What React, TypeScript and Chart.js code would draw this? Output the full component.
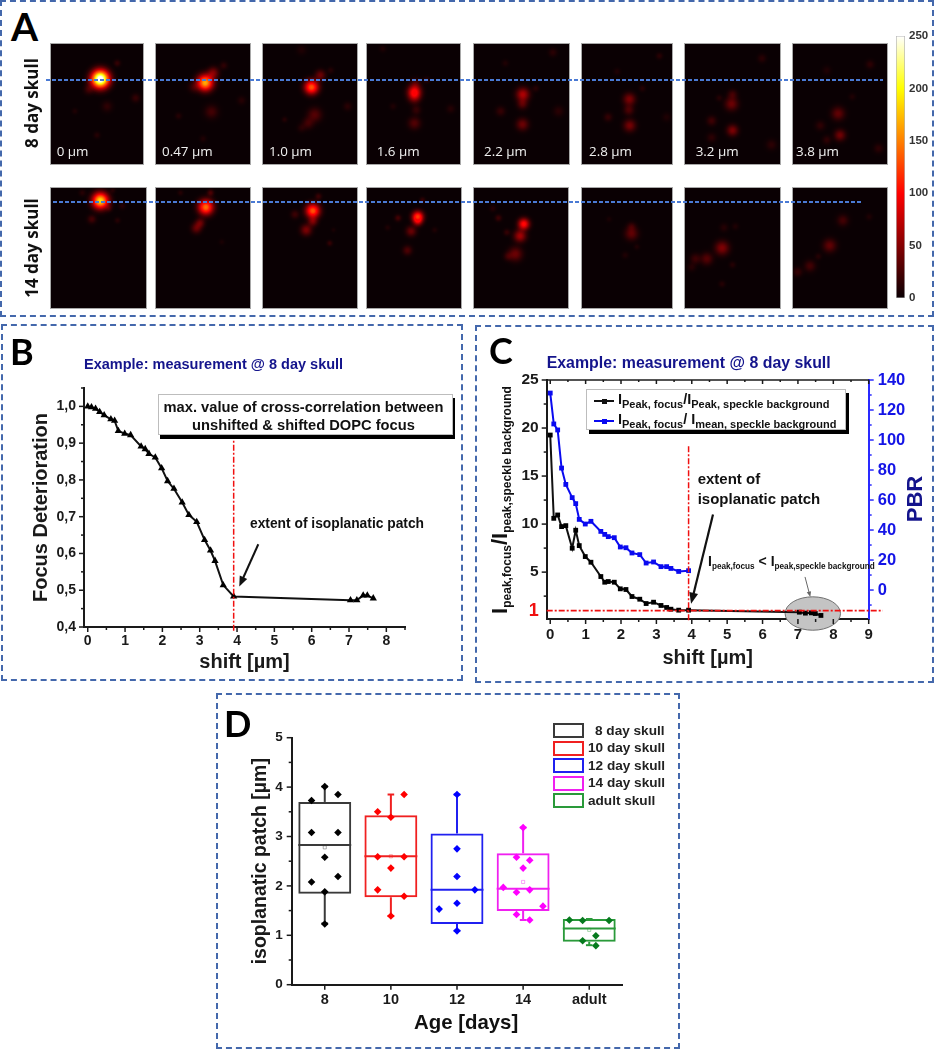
import React, { useEffect, useRef } from "react";
import { Chart, registerables } from "chart.js";

Chart.register(...registerables);

const FONT = "'Liberation Sans', Arial, sans-serif";
Chart.defaults.font.family = FONT;
Chart.defaults.font.weight = "bold";

/* ---------- data ---------- */
const shiftUm = [0, 0.1, 0.21, 0.32, 0.44, 0.62, 0.72, 0.82, 0.99, 1.15, 1.43, 1.54, 1.64, 1.81, 1.98, 2.14, 2.31, 2.53, 2.71, 2.92, 3.13, 3.29, 3.41, 3.63, 3.91, 7.04, 7.21, 7.38, 7.49, 7.65];
const focusDeterioration = [1.0, 0.998, 0.994, 0.985, 0.976, 0.965, 0.961, 0.933, 0.926, 0.922, 0.891, 0.884, 0.871, 0.861, 0.832, 0.797, 0.776, 0.739, 0.705, 0.686, 0.637, 0.608, 0.58, 0.514, 0.483, 0.473, 0.473, 0.486, 0.486, 0.478];
const peakToPeak = [19.27, 10.6, 10.95, 9.74, 9.84, 7.49, 9.36, 7.76, 6.62, 6.03, 4.54, 3.95, 4.02, 3.95, 3.26, 3.19, 2.46, 2.18, 1.73, 1.87, 1.53, 1.32, 1.14, 1.04, 1.04, 0.83, 0.73, 0.76, 0.69, 0.49];
const pbr = [131.3, 110.7, 106.7, 81.3, 70.4, 61.6, 57.6, 47.1, 44, 45.8, 39.1, 37.1, 35.6, 34.9, 28.7, 28.2, 24.7, 23.6, 18, 18.7, 15.6, 15.6, 14.4, 12.4, 12.9];
const isoplanaticExtent = 3.91;

const ageLabels = ["8", "10", "12", "14", "adult"];
const boxQ1 = [1.84, 1.77, 1.23, 1.49, 0.87];
const boxQ3 = [3.7, 3.43, 3.06, 2.66, 1.33];
const boxMedian = [2.83, 2.6, 1.92, 1.94, 1.14];
const boxMean = [2.78, 2.6, 2.19, 2.08, 1.11];
const whiskerLow = [1.24, 1.39, 1.09, 1.31, 0.8];
const whiskerHigh = [4.01, 3.85, 3.85, 3.18, 1.33];
const skull8Points = [[0.8, 3.73], [1, 4.01], [1.2, 3.85], [0.8, 3.08], [1.2, 3.08], [1, 2.58], [1.2, 2.19], [0.8, 2.08], [1, 1.88], [1, 1.23]];
const skull10Points = [[1.8, 3.5], [2, 3.39], [2.2, 3.85], [1.8, 2.59], [2.2, 2.59], [2, 2.36], [1.8, 1.92], [2.2, 1.79], [2, 1.39]];
const skull12Points = [[3, 3.85], [3, 2.75], [3, 2.19], [3.27, 1.92], [2.73, 1.53], [3, 1.65], [3, 1.09]];
const skull14Points = [[4, 3.18], [3.9, 2.58], [4.1, 2.52], [4, 2.36], [3.7, 1.97], [3.9, 1.87], [4.1, 1.92], [4.3, 1.59], [3.9, 1.42], [4.1, 1.31]];
const adultPoints = [[4.7, 1.31], [4.9, 1.3], [5.3, 1.3], [4.9, 0.89], [5.1, 0.99], [5.1, 0.79]];
const boxColors = ["#3a3a3a", "#f02020", "#2020f0", "#f020f0", "#2a9a3a"];
const pointColors = ["#000000", "#ff0000", "#0000ff", "#ff00ff", "#067a1e"];
const legendNames = ["8 day skull", "10 day skull", "12 day skull", "14 day skull", "adult skull"];

const shiftCaptions = ["0 µm", "0.47 µm", "1.0 µm", "1.6 µm", "2.2 µm", "2.8 µm", "3.2 µm", "3.8 µm"];
// each spot: [x %, y %, radius, intensity]
const skull8Spots = [
  [[53.6, 29.2, 19, 275], [72, 16, 7, 16], [92, 45, 9, 16], [61, 52, 11, 14], [41, 38, 10, 20], [50, 76, 7, 10], [26, 56, 6, 8]],
  [[52.3, 32.3, 17, 170], [61, 24, 12, 44], [72, 18, 8, 14], [59, 56.5, 14, 22], [40, 36, 11, 18], [24, 60, 7, 10], [91, 47, 9, 10], [50, 79, 7, 8]],
  [[51.6, 36, 15, 135], [61, 26, 11, 38], [55, 59, 15, 29], [48, 66, 12, 21], [41, 70, 9, 10], [41, 5, 10, 8], [90, 52, 9, 12], [23, 63, 6, 10], [72, 22, 7, 10]],
  [[51, 40, 14, 100], [51, 45, 13, 32], [52, 33, 11, 22], [51, 66, 13, 28], [53, 55, 10, 16], [28, 52, 7, 8], [90, 54, 9, 10], [64, 30, 7, 12], [17, 4, 7, 8]],
  [[51.4, 42, 14, 64], [51, 50, 11, 30], [51, 67, 13, 38], [28, 56, 10, 16], [89, 56, 11, 12], [83, 7, 9, 12], [33, 16, 7, 8], [65, 37, 7, 11]],
  [[52.6, 46, 13, 44], [52, 55, 11, 26], [53, 68, 13, 42], [29, 61, 9, 16], [86, 10, 7, 12], [94, 61, 9, 8], [39, 23, 7, 8], [67, 37, 7, 10]],
  [[49, 50, 14, 38], [50, 42, 10, 21], [50, 72, 12, 44], [28, 64, 10, 20], [28, 78, 10, 13], [81, 12, 9, 12], [91, 84, 11, 13], [36, 45, 7, 10]],
  [[48, 58, 14, 34], [50, 76, 12, 40], [29, 68, 10, 14], [36, 80, 9, 14], [82, 17, 9, 13], [91, 87, 10, 13], [36, 22, 9, 8], [63, 44, 7, 8]],
];
const skull14Spots = [
  [[52, 10.6, 17, 190], [43, 26, 9, 22], [70, 27, 6, 11], [75, 15, 7, 11], [33, 4, 7, 11], [65, 2, 6, 10], [61, 17, 7, 16]],
  [[53, 16, 16, 145], [47, 29, 10, 36], [43, 33.5, 11, 36], [58, 4, 7, 26], [70, 45, 6, 6], [26, 4, 6, 10]],
  [[53, 19, 15, 135], [53, 28, 10, 40], [46, 35, 12, 44], [34, 22, 9, 19], [59, 7, 7, 19], [71, 46, 6, 16], [75, 35, 5, 6]],
  [[54, 24, 12, 125], [54, 28, 10, 48], [47, 36, 11, 37], [33, 25, 7, 22], [43, 52, 10, 26], [59, 10, 6, 16], [22, 33, 6, 8], [72, 35, 6, 8]],
  [[53, 30, 12, 105], [49, 40, 13, 60], [44, 55, 15, 38], [26, 25, 7, 19], [35, 37, 7, 16], [36, 57, 9, 16], [20, 17, 7, 10]],
  [[55, 38, 14, 34], [55, 32, 9, 16], [48, 56, 7, 8], [61, 49, 6, 8], [30, 26, 6, 6]],
  [[39, 50, 15, 46], [23, 59, 13, 29], [11, 59, 11, 19], [7, 66, 9, 10], [50, 64, 7, 10], [39, 80, 7, 10], [41, 33, 9, 10], [53, 32, 7, 8]],
  [[39, 48, 14, 34], [53, 27, 12, 22], [18, 65, 12, 22], [5, 70, 10, 16], [27, 57, 7, 10], [81, 24, 7, 8]],
];
const colorbarTicks = [0, 50, 100, 150, 200, 250];

/* ---------- helpers ---------- */
const INK = "#1a1a1a";

function colormap(stops: number[][], v: number) {
  const t = Math.max(0, Math.min(250, v));
  for (let i = 1; i < stops.length; i++) {
    if (t <= stops[i][0]) {
      const a = stops[i - 1], b = stops[i], f = (t - a[0]) / (b[0] - a[0]);
      return `rgb(${a[1] + (b[1] - a[1]) * f},${a[2] + (b[2] - a[2]) * f},${a[3] + (b[3] - a[3]) * f})`;
    }
  }
  return "#fff";
}
const hot = (v: number) => colormap([[0, 10, 0, 3], [100, 255, 0, 0], [150, 255, 128, 0], [200, 255, 255, 0], [250, 255, 255, 255]], v);
const additiveBlobs = (v: number) => colormap([[0, 0, 0, 0], [100, 255, 0, 0], [150, 255, 128, 0], [200, 255, 255, 0], [250, 255, 255, 255]], v);

function heatmapConfig(spots: number[][]) {
  const fill = (ctx: any) => {
    if (!ctx.raw) return "#000";
    const { x, y, r, v } = ctx.raw;
    const c = ctx.chart;
    const px = c.scales.x.getPixelForValue(x), py = c.scales.y.getPixelForValue(y);
    if (!Number.isFinite(px) || !Number.isFinite(py)) return "#000";
    const g = c.ctx.createRadialGradient(px, py, 0, px, py, r);
    for (let i = 0; i <= 8; i++) {
      const t = i / 8;
      g.addColorStop(t, additiveBlobs(v * Math.exp(-4 * t * t) * (1 - t * t)));
    }
    return g;
  };
  return {
    type: "bubble",
    data: { datasets: [{ data: spots.map(([x, y, r, v]) => ({ x, y, r, v })), backgroundColor: fill, borderWidth: 0, hoverBorderWidth: 0 }] },
    options: {
      responsive: false, animation: false, events: [],
      layout: { padding: 0, autoPadding: false },
      plugins: { legend: { display: false }, tooltip: { enabled: false } },
      scales: {
        x: { type: "linear", min: 0, max: 100, display: false },
        y: { type: "linear", min: 0, max: 100, reverse: true, display: false },
      },
    },
    plugins: [{
      id: "additive",
      beforeDraw(c: any) { c.ctx.fillStyle = hot(0); c.ctx.fillRect(0, 0, c.width, c.height); },
      beforeDatasetsDraw(c: any) { c.ctx.globalCompositeOperation = "lighter"; },
      afterDatasetsDraw(c: any) { c.ctx.globalCompositeOperation = "source-over"; },
    }],
  };
}

function colorbarConfig() {
  return {
    type: "bar",
    data: {
      labels: ["intensity"],
      datasets: [{
        data: [[0, 250]], barPercentage: 1, categoryPercentage: 1, borderWidth: 1, borderColor: "#b5b5b5", borderSkipped: false,
        backgroundColor: (ctx: any) => {
          const s = ctx.chart.scales.y;
          const y0 = s.getPixelForValue(0), y1 = s.getPixelForValue(250);
          if (!Number.isFinite(y0) || !Number.isFinite(y1)) return "#000";
          const g = ctx.chart.ctx.createLinearGradient(0, y0, 0, y1);
          for (let i = 0; i <= 25; i++) g.addColorStop(i / 25, hot(i * 10));
          return g;
        },
      }],
    },
    options: {
      responsive: false, animation: false, events: [],
      layout: { padding: { left: 6, top: 8, right: 0, bottom: 0 }, autoPadding: false },
      plugins: { legend: { display: false }, tooltip: { enabled: false } },
      scales: {
        x: { display: false, grid: { display: false } },
        y: {
          type: "linear", min: 0, max: 250, position: "right",
          border: { display: false }, grid: { display: false, drawTicks: false },
          afterBuildTicks: (s: any) => { s.ticks = colorbarTicks.map((value) => ({ value })); },
          afterFit: (s: any) => { s.width = 27; },
          ticks: { padding: 4, color: "#333", font: { size: 11.5, weight: "bold" }, autoSkip: false },
        },
      },
    },
  };
}

function axis(o: any) {
  return {
    type: "linear", min: o.min, max: o.max, position: o.position, offset: false,
    border: { display: true, width: 2, color: o.color || INK },
    grid: { display: false, drawTicks: false, offset: false },
    afterBuildTicks: (s: any) => { s.ticks = o.ticks.map((value: number) => ({ value })); },
    afterFit: (s: any) => { if (s.isHorizontal()) s.height = o.size; else s.width = o.size; },
    ticks: {
      autoSkip: false, maxRotation: 0, padding: o.padding, color: o.tickColor || INK,
      font: o.font, callback: o.callback,
    },
    title: o.title ? { display: true, text: o.title, color: o.titleColor || INK, font: { size: o.titleSize, weight: "bold" }, padding: o.titlePadding } : { display: false },
  };
}

function range(from: number, to: number, step: number) {
  const out: number[] = [];
  const n = Math.round((to - from) / step);
  for (let i = 0; i <= n; i++) out.push(from + i * step);
  return out;
}

function tickMarks(specs: any[], extra?: (c: any) => void, under?: (c: any) => void) {
  return {
    id: "tickMarks",
    beforeDatasetsDraw(c: any) { if (under) under(c); },
    afterDraw(c: any) {
      const ctx = c.ctx;
      ctx.save();
      for (const s of specs) {
        const sc = c.scales[s.id];
        ctx.strokeStyle = s.color || INK;
        ctx.lineWidth = s.width || 1.5;
        const mark = (v: number, len: number) => {
          const p = sc.getPixelForValue(v);
          ctx.beginPath();
          if (sc.position === "left") { ctx.moveTo(sc.right, p); ctx.lineTo(sc.right - len, p); }
          else if (sc.position === "right") { ctx.moveTo(sc.left, p); ctx.lineTo(sc.left + len, p); }
          else { ctx.moveTo(p, sc.top); ctx.lineTo(p, sc.top + len); }
          ctx.stroke();
        };
        (s.major || []).forEach((v: number) => mark(v, 5));
        (s.minor || []).forEach((v: number) => mark(v, 3));
      }
      if (extra) extra(c);
      ctx.restore();
    },
  };
}

function arrow(ctx: any, x1: number, y1: number, x2: number, y2: number, color: string, width: number, head: number) {
  const a = Math.atan2(y2 - y1, x2 - x1);
  ctx.save();
  ctx.strokeStyle = color; ctx.fillStyle = color; ctx.lineWidth = width;
  ctx.beginPath(); ctx.moveTo(x1, y1); ctx.lineTo(x2 - Math.cos(a) * head * 0.7, y2 - Math.sin(a) * head * 0.7); ctx.stroke();
  ctx.beginPath(); ctx.moveTo(x2, y2);
  ctx.lineTo(x2 - head * Math.cos(a - 0.38), y2 - head * Math.sin(a - 0.38));
  ctx.lineTo(x2 - head * Math.cos(a + 0.38), y2 - head * Math.sin(a + 0.38));
  ctx.closePath(); ctx.fill();
  ctx.restore();
}

const baseOptions = { responsive: false, animation: false, events: [], plugins: { legend: { display: false }, tooltip: { enabled: false } } };

function redLine(data: any[], width = 1.5) {
  return { data, showLine: true, pointRadius: 0, borderColor: "#f01010", borderWidth: width, borderDash: [6, 2, 2, 2], clip: false, order: 0 };
}

function panelBConfig() {
  return {
    type: "scatter",
    data: {
      datasets: [
        redLine([{ x: isoplanaticExtent, y: 0.39 }, { x: isoplanaticExtent, y: 0.913 }]),
        {
          data: shiftUm.map((x, i) => ({ x, y: focusDeterioration[i] })), showLine: true, tension: 0,
          borderColor: "#111", borderWidth: 2, pointStyle: "triangle", pointRadius: 4.2, backgroundColor: "#000", pointBorderWidth: 0, clip: false, order: 1,
        },
      ],
    },
    options: {
      ...baseOptions,
      layout: { padding: { left: 0, top: 63, right: 57, bottom: 0 }, autoPadding: false },
      scales: {
        x: axis({ min: -0.1, max: 8.5, position: "bottom", ticks: range(0, 8, 1), size: 53, padding: 6, font: { size: 14, weight: "bold" }, title: "shift [µm]", titleSize: 20, titlePadding: { top: 0, bottom: 6 } }),
        y: axis({ min: 0.4, max: 1.05, position: "left", ticks: range(0.4, 1, 0.1), size: 82, padding: 8, font: { size: 14, weight: "bold" }, callback: (v: number) => v.toFixed(1).replace(".", ","), title: "Focus Deterioration", titleSize: 20, titlePadding: { top: 27.5, bottom: 0 } }),
      },
    },
    plugins: [tickMarks(
      [{ id: "x", major: range(0, 8, 1), minor: range(0.5, 8.5, 1) }, { id: "y", major: range(0.4, 1, 0.1), minor: range(0.45, 1.05, 0.1) }],
      (c) => {
        const x = c.scales.x, y = c.scales.y;
        arrow(c.ctx, x.getPixelForValue(4.57), y.getPixelForValue(0.625), x.getPixelForValue(4.06), y.getPixelForValue(0.51), "#111", 2, 11);
      },
    )],
  };
}

function panelCConfig() {
  return {
    type: "scatter",
    data: {
      datasets: [
        redLine([{ x: isoplanaticExtent, y: 0 }, { x: isoplanaticExtent, y: 18.3 }]),
        redLine([{ x: -0.1, y: 1 }, { x: 9.4, y: 1 }], 1.8),
        {
          data: shiftUm.map((x, i) => ({ x, y: peakToPeak[i] })), showLine: true, tension: 0, yAxisID: "y",
          borderColor: "#111", borderWidth: 2, pointStyle: "rect", pointRadius: 3.4, backgroundColor: "#000", pointBorderWidth: 0, clip: false, order: 1,
        },
        {
          data: pbr.map((y, i) => ({ x: shiftUm[i], y })), showLine: true, tension: 0, yAxisID: "y1",
          borderColor: "#0a0af0", borderWidth: 2, pointStyle: "rect", pointRadius: 3.4, backgroundColor: "#0a0af0", pointBorderWidth: 0, clip: false, order: 2,
        },
      ],
    },
    options: {
      ...baseOptions,
      layout: { padding: { left: 0, top: 55, right: 0, bottom: 0 }, autoPadding: false },
      scales: {
        x: axis({ min: -0.1, max: 9, position: "bottom", ticks: range(0, 9, 1), size: 63, padding: 7, font: { size: 15, weight: "bold" }, title: "shift [µm]", titleSize: 20, titlePadding: { top: 0, bottom: 12 } }),
        y: axis({
          min: 0.12, max: 25, position: "left", ticks: [1, 5, 10, 15, 20, 25], size: 71.7, padding: 8,
          font: (ctx: any) => ({ size: ctx.tick && ctx.tick.value === 1 ? 18 : 15.5, weight: "bold" }),
          tickColor: (ctx: any) => (ctx.tick && ctx.tick.value === 1 ? "#f01010" : INK),
        }),
        y1: axis({ min: -19.3, max: 140, position: "right", ticks: range(0, 140, 20), size: 64.3, padding: 9, color: "#2a2aff", tickColor: "#1414e6", font: { size: 16.5, weight: "bold" } }),
      },
    },
    plugins: [tickMarks(
      [
        { id: "x", major: range(0, 9, 1), minor: range(0.5, 8.5, 1) },
        { id: "y", major: [5, 10, 15, 20, 25], minor: [2.5, 7.5, 12.5, 17.5, 22.5] },
        { id: "y1", major: range(0, 140, 20), minor: range(-10, 130, 20), color: "#2a2aff" },
      ],
      (c) => {
        const x = c.scales.x, y = c.scales.y, ctx = c.ctx, a = c.chartArea;
        ctx.lineWidth = 1.5; ctx.strokeStyle = INK;
        ctx.beginPath(); ctx.moveTo(a.left, a.top); ctx.lineTo(a.right, a.top); ctx.stroke();
        range(0, 9, 0.5).forEach((v) => {
          const p = x.getPixelForValue(v);
          ctx.beginPath(); ctx.moveTo(p, a.top); ctx.lineTo(p, a.top + (Number.isInteger(v) ? 4 : 2)); ctx.stroke();
        });
        arrow(ctx, x.getPixelForValue(4.6), y.getPixelForValue(11), x.getPixelForValue(3.98), y.getPixelForValue(1.7), "#111", 2.2, 12);
        arrow(ctx, x.getPixelForValue(7.2), y.getPixelForValue(4.5), x.getPixelForValue(7.35), y.getPixelForValue(2.4), "#666", 1, 6);
      },
      (c) => {
        const x = c.scales.x, y = c.scales.y, ctx = c.ctx;
        ctx.save();
        ctx.beginPath();
        ctx.ellipse(x.getPixelForValue(7.42), y.getPixelForValue(0.69), 27.7, 16.7, 0, 0, Math.PI * 2);
        ctx.fillStyle = "#c4c4c4"; ctx.fill();
        ctx.strokeStyle = "#707070"; ctx.lineWidth = 1; ctx.stroke();
        ctx.restore();
      },
    )],
  };
}

function panelDConfig() {
  const idx = ageLabels.map((_, i) => i + 1);
  const seg = (pts: any[], color: string) => ({ type: "scatter", data: pts, showLine: true, pointRadius: 0, borderColor: color, borderWidth: 2, clip: false, order: 2 });
  const lines: any[] = [];
  idx.forEach((x, i) => {
    const col = boxColors[i];
    lines.push(seg([{ x: x - 0.4, y: boxMedian[i] }, { x: x + 0.4, y: boxMedian[i] }], col));
    lines.push(seg([{ x, y: boxQ3[i] }, { x, y: whiskerHigh[i] }], col));
    lines.push(seg([{ x, y: boxQ1[i] }, { x, y: whiskerLow[i] }], col));
    lines.push(seg([{ x: x - 0.05, y: whiskerHigh[i] }, { x: x + 0.05, y: whiskerHigh[i] }], col));
    lines.push(seg([{ x: x - 0.05, y: whiskerLow[i] }, { x: x + 0.05, y: whiskerLow[i] }], col));
  });
  const pts = [skull8Points, skull10Points, skull12Points, skull14Points, adultPoints].map((p, i) => ({
    type: "scatter", data: p.map(([x, y]) => ({ x, y })), pointStyle: "rectRot", pointRadius: 3.8, backgroundColor: pointColors[i], pointBorderWidth: 0, showLine: false, clip: false, order: 1,
  }));
  const means = {
    type: "scatter", data: boxMean.map((y, i) => ({ x: i + 1, y })), pointStyle: "rect", pointRadius: 2.2,
    backgroundColor: "transparent", borderColor: boxColors.map((c) => c + "66"), pointBorderColor: boxColors.map((c) => c + "66"), pointBorderWidth: 1, showLine: false, order: 1,
  };
  return {
    type: "bar",
    data: {
      datasets: [
        {
          type: "bar", data: idx.map((x, i) => ({ x, y: [boxQ1[i], boxQ3[i]] })), backgroundColor: "transparent", borderColor: boxColors,
          borderWidth: 2, borderSkipped: false, barPercentage: 1, categoryPercentage: 0.8, order: 3,
        },
        ...lines, means, ...pts,
      ],
    },
    options: {
      ...baseOptions,
      layout: { padding: { left: 0, top: 42.7, right: 55.7, bottom: 0 }, autoPadding: false },
      scales: {
        x: axis({ min: 0.5, max: 5.5, position: "bottom", ticks: idx, size: 63.3, padding: 7, font: { size: 14.5, weight: "bold" }, callback: (v: number) => ageLabels[v - 1] }),
        y: axis({ min: 0, max: 5, position: "left", ticks: range(0, 5, 1), size: 73.7, padding: 9, font: { size: 13.5, weight: "bold" }, title: "isoplanatic patch [µm]", titleSize: 19.5, titlePadding: { top: 31, bottom: 0 } }),
      },
    },
    plugins: [tickMarks([
      { id: "x", major: idx },
      { id: "y", major: range(0, 5, 1), minor: range(0.5, 4.5, 1) },
    ])],
  };
}

/* ---------- components ---------- */
function ChartBox({ x, y, w, h, make, style }: any) {
  const ref = useRef<HTMLCanvasElement | null>(null);
  useEffect(() => {
    const chart = new Chart(ref.current as any, make());
    return () => chart.destroy();
  }, []);
  return <canvas ref={ref} width={w} height={h} style={{ position: "absolute", left: x, top: y, width: w, height: h, ...style }} />;
}

function T({ x, y, size, children, color = "#111", weight = "bold", rotate, family, style }: any) {
  return (
    <div style={{
      position: "absolute", left: x, top: y, fontSize: size, color, fontWeight: weight, fontFamily: family || FONT, lineHeight: 1, whiteSpace: "nowrap",
      transform: rotate ? "translate(-50%,-50%) rotate(-90deg)" : "translateY(-50%)", ...style,
    }}>{children}</div>
  );
}

const Sub = ({ s, children }: any) => <span style={{ fontSize: s, verticalAlign: -Math.round(s * 0.35) }}>{children}</span>;

function Frame({ x, y, w, h }: any) {
  return <div style={{ position: "absolute", left: x, top: y, width: w, height: h, boxSizing: "border-box", border: "2px dashed #4468ac" }} />;
}

function DashLine({ x, y, w }: any) {
  return <div style={{ position: "absolute", left: x, top: y - 1, width: w, height: 2, background: "repeating-linear-gradient(90deg,#4a7ad4 0 4px,transparent 4px 6px)" }} />;
}

const row1X = [[50.7, 142.7], [155.7, 250], [263, 357.3], [367.3, 460.7], [473.7, 568.3], [581.7, 671.7], [684.7, 779.3], [792.7, 887]];
const row2X = [[50.7, 145.3], [155.7, 250], [263, 357.3], [367.3, 461.7], [474, 568.3], [581.7, 671.7], [684.7, 779.3], [793.3, 887.7]];
const captionX = [56.7, 162, 269, 376.7, 484, 589, 695.7, 796];

const CAPTION = "'Open Sans', sans-serif";
const LETTER = "Lato, sans-serif";
const NAVY = "#14148c";
const imageStyle = { outline: "1px solid #a8a8a8" };

function LegendRow({ y, color, children }: any) {
  return (
    <>
      <div style={{ position: "absolute", left: 594, top: y - 1, width: 20, height: 2, background: color }} />
      <div style={{ position: "absolute", left: 601.5, top: y - 2.5, width: 5, height: 5, background: color }} />
      <T x={618} y={y} size={14.5}>{children}</T>
    </>
  );
}

export default function App() {
  return (
    <div style={{ position: "absolute", left: 0, top: 0, width: 935, height: 1050, background: "#fff", overflow: "hidden", fontFamily: FONT }}>
      {/* Panel A */}
      {row1X.map(([a, b], i) => (
        <ChartBox key={"r1" + i} x={Math.round(a)} y={44} w={Math.round(b - a)} h={120} make={() => heatmapConfig(skull8Spots[i])} style={imageStyle} />
      ))}
      {row2X.map(([a, b], i) => (
        <ChartBox key={"r2" + i} x={Math.round(a)} y={188} w={Math.round(b - a)} h={120} make={() => heatmapConfig(skull14Spots[i])} style={imageStyle} />
      ))}
      {shiftCaptions.map((c, i) => (
        <T key={c} x={captionX[i]} y={152} size={13.4} color="#f0f0f0" weight={400} family={CAPTION}>{c}</T>
      ))}
      <DashLine x={46} y={79.5} w={837} />
      <DashLine x={53} y={201.5} w={808} />
      <ChartBox x={890} y={25} w={42} h={284} make={colorbarConfig} />
      <T x={11} y={26} size={39} color="#000" family={LETTER}>A</T>
      <T x={31} y={103} size={17} rotate family={CAPTION} color="#111">8 day skull</T>
      <T x={31} y={248} size={17} rotate family={CAPTION} color="#111">14 day skull</T>
      <Frame x={0} y={0} w={934} h={317} />

      {/* Panel B */}
      <ChartBox x={2} y={325} w={460} h={355} make={panelBConfig} />
      <T x={84} y={364} size={14.5} color={NAVY}>Example: measurement @ 8 day skull</T>
      <div style={{
        position: "absolute", left: 158, top: 394, width: 295, height: 41, boxSizing: "border-box", background: "#fff", border: "1px solid #bdbdbd",
        boxShadow: "2px 4px 0 #000", textAlign: "center", fontSize: 14.7, fontWeight: "bold", color: "#111", lineHeight: "18px", paddingTop: 2.5, paddingRight: 4, whiteSpace: "nowrap",
      }}>
        max. value of cross-correlation between<br />unshifted &amp; shifted DOPC focus
      </div>
      <T x={250} y={524} size={13.8}>extent of isoplanatic patch</T>
      <T x={10} y={351} size={36} color="#000" family={LETTER}>B</T>
      <Frame x={1} y={324} w={462} h={357} />

      {/* Panel C */}
      <ChartBox x={475} y={325} w={458} h={357} make={panelCConfig} />
      <T x={546.7} y={363} size={15.9} color={NAVY}>Example: measurement @ 8 day skull</T>
      <div style={{ position: "absolute", left: 586, top: 389, width: 260, height: 41, boxSizing: "border-box", background: "#fff", border: "1px solid #bdbdbd", boxShadow: "3px 4px 0 #000" }} />
      <LegendRow y={401} color="#111">I<Sub s={11}>Peak, focus</Sub>/I<Sub s={11}>Peak, speckle background</Sub></LegendRow>
      <LegendRow y={421} color="#0a0af0">I<Sub s={11}>Peak, focus</Sub>/ I<Sub s={11}>mean, speckle background</Sub></LegendRow>
      <T x={501} y={500} size={22} rotate>I<Sub s={12}>peak,focus</Sub>/I<Sub s={12}>peak,speckle background</Sub></T>
      <T x={915} y={499} size={22} rotate color={NAVY}>PBR</T>
      <T x={697.7} y={478} size={15}>extent of</T>
      <T x={697.7} y={498} size={15}>isoplanatic patch</T>
      <T x={708} y={563} size={14}>I<Sub s={8.2}>peak,focus</Sub> &lt; I<Sub s={8.2}>peak,speckle background</Sub></T>
      <T x={489} y={350} size={36} color="#000" family={LETTER}>C</T>
      <Frame x={475} y={325} w={459} h={358} />

      {/* Panel D */}
      <ChartBox x={218} y={695} w={460} h={353} make={panelDConfig} />
      <T x={414} y={1022} size={20.4}>Age [days]</T>
      {legendNames.map((n, i) => (
        <React.Fragment key={n}>
          <div style={{ position: "absolute", left: 553, top: 723 + i * 17.5, width: 30.5, height: 15, boxSizing: "border-box", border: `2px solid ${boxColors[i]}`, background: "#fff" }} />
          <T x={i === 0 ? 595 : 588} y={731 + i * 17.45} size={13.6} color="#222">{n}</T>
        </React.Fragment>
      ))}
      <T x={224} y={723} size={36} color="#000" family={LETTER}>D</T>
      <Frame x={216} y={693} w={464} h={356} />
    </div>
  );
}
